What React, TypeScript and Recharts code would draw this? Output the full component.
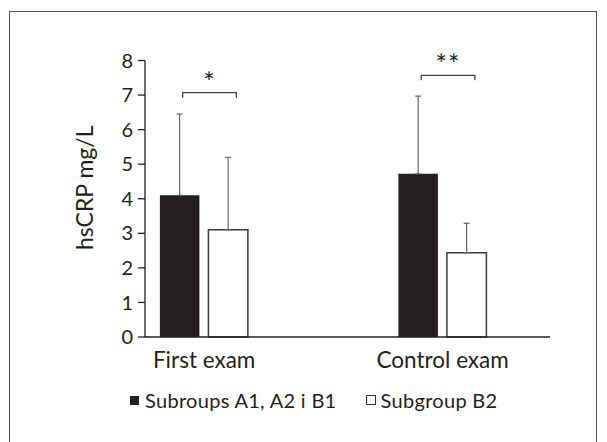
import React from "react";
import { ComposedChart, Bar, XAxis, YAxis, ErrorBar, ReferenceLine, Legend } from "recharts";

const categories = ["First exam", "Control exam"];
const groupA = [4.1, 4.72]; // Subroups A1, A2 i B1
const groupAErr = [2.35, 2.25];
const groupB = [3.1, 2.44]; // Subgroup B2
const groupBErr = [2.1, 0.85];
const yTicks = [0, 1, 2, 3, 4, 5, 6, 7, 8];

// significance brackets per exam
const sigMarks = ["*", "**"];
const sigLevels = [7.07, 7.57];
const sigFrom = -0.09;
const sigTo = 0.135;

const data = categories.map((name, i) => ({
  pos: i,
  name,
  a: groupA[i],
  aErr: [0, groupAErr[i]],
  b: groupB[i],
  bErr: [0, groupBErr[i]],
}));

const ink = "#231f20";
const font = "Lato, 'Open Sans', sans-serif";

const Bracket = (p: any) => {
  const { x1, y1, x2, y2 } = p;
  return <path d={`M${x1},${y1 + 5}V${y1}H${x2}V${y2 + 5}`} fill="none" stroke="#444" strokeWidth={1.3} />;
};

const LegendBox = () => (
  <div style={{ display: "flex", alignItems: "center", fontFamily: font, fontSize: 20, color: ink, whiteSpace: "nowrap" }}>
    <span style={{ width: 9, height: 9, background: ink, display: "inline-block", marginRight: 6 }} />
    <span style={{ letterSpacing: 0.3 }}>Subroups A1, A2 i B1</span>
    <span style={{ width: 8, height: 8, border: "1px solid #333", display: "inline-block", marginLeft: 29, marginRight: 5 }} />
    <span style={{ letterSpacing: 0.3 }}>Subgroup B2</span>
  </div>
);

export default function App() {
  return (
    <div style={{ position: "absolute", left: 0, top: 0, width: 607, height: 442, background: "#fff", overflow: "hidden" }}>
      <div
        style={{
          position: "absolute",
          left: 9,
          top: 11,
          width: 586,
          height: 440,
          borderTop: "1.5px solid #555",
          borderLeft: "1.5px solid #555",
          borderRight: "1.5px solid #555",
        }}
      />
      <ComposedChart
        width={607}
        height={442}
        data={data}
        margin={{ top: 60.5, right: 57, bottom: 75, left: 65 }}
        barGap={9}
        style={{ position: "absolute", left: 0, top: 0, fontFamily: font }}
      >
        <XAxis
          type="number"
          dataKey="pos"
          height={30}
          domain={[-0.248, 1.45]}
          ticks={[0, 1]}
          allowDataOverflow
          tickFormatter={(v: number) => categories[v]}
          tickLine={false}
          tickSize={0}
          tickMargin={15}
          axisLine={{ stroke: ink, strokeWidth: 1.3 }}
          tick={{ fill: ink, fontSize: 22.5 }}
        />
        <YAxis
          width={80}
          domain={[0, 8]}
          ticks={yTicks}
          tickSize={7}
          tickMargin={5}
          axisLine={{ stroke: ink, strokeWidth: 1.3 }}
          tickLine={{ stroke: ink, strokeWidth: 1.3 }}
          tick={{ fill: ink, fontSize: 20 }}
          label={{ value: "hsCRP mg/L", angle: -90, position: "center", dx: -20, dy: -11, fill: ink, fontSize: 23 }}
        />
        <Bar dataKey="a" name="Subroups A1, A2 i B1" fill={ink} barSize={39.5} isAnimationActive={false}>
          <ErrorBar dataKey="aErr" width={3} stroke="#666" strokeWidth={1.2} direction="y" />
        </Bar>
        <Bar dataKey="b" name="Subgroup B2" fill="#fff" stroke="#3a3a3a" strokeWidth={1.5} barSize={39.5} isAnimationActive={false}>
          <ErrorBar dataKey="bErr" width={3} stroke="#666" strokeWidth={1.2} direction="y" />
        </Bar>
        {categories.map((c, i) => (
          <ReferenceLine
            key={c}
            segment={[
              { x: i + sigFrom, y: sigLevels[i] },
              { x: i + sigTo, y: sigLevels[i] },
            ]}
            shape={Bracket}
            label={{ value: sigMarks[i], position: "top", offset: 1, fill: ink, fontSize: 27, letterSpacing: 1 }}
          />
        ))}
        <Legend
          layout="vertical"
          align="center"
          verticalAlign="middle"
          content={() => <LegendBox />}
          wrapperStyle={{ left: 130, top: 388, width: "auto" }}
        />
      </ComposedChart>
    </div>
  );
}
